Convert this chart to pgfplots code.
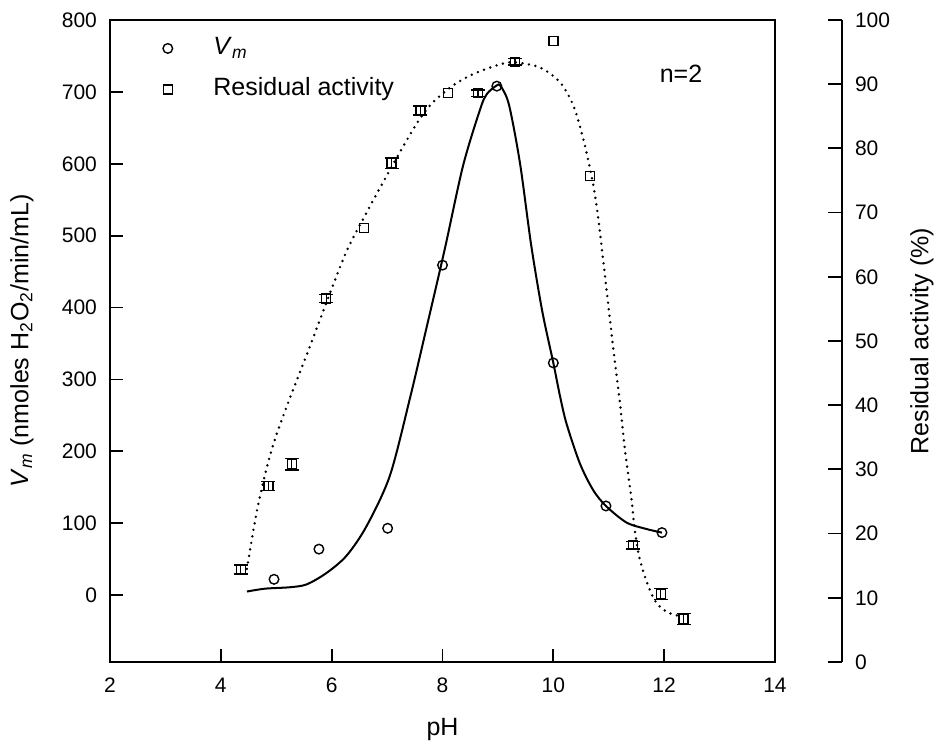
\documentclass[border=0pt]{standalone}
\usepackage{fontspec}
\setmainfont{Liberation Sans}
\usepackage{pgfplots}
\pgfplotsset{compat=1.18}
\begin{document}
\begin{tikzpicture}
\path (-55pt,-41pt) rectangle (414.5pt,331pt);
\begin{axis}[
  at={(0pt,0pt)}, anchor=south west,
  scale only axis, width=332.5pt, height=321pt,
  xmin=2, xmax=14, ymin=-93, ymax=800,
  xtick={2,4,...,14}, ytick={0,100,...,800},
  tick align=inside, tick pos=left,
  major tick length=6.5pt,
  axis line style={line width=1pt},
  tick style={line width=0.9pt, black},
  /pgf/number format/assume math mode=true,
  tick label style={font=\fontsize{10.5}{12}\selectfont},
  xticklabel style={yshift=-4.5pt},
  yticklabel style={xshift=-3pt},
  xlabel={pH},
  every axis x label/.style={at={(axis description cs:0.5,-0.1044)}, anchor=center, font=\fontsize{12.5}{15}\selectfont, inner sep=0pt},
  ylabel={\textit{V}\textsubscript{\textit{m}} (nmoles H\textsubscript{2}O\textsubscript{2}/min/mL)},
  every axis y label/.style={at={(axis description cs:-0.1323,0.5)}, rotate=90, anchor=center, font=\fontsize{12.5}{15}\selectfont, inner sep=0pt},
  legend style={at={(axis description cs:0.0788,0.975)}, anchor=north west, draw=none, fill=none, inner sep=0pt, row sep=8.5pt, column sep=0pt, font=\fontsize{12.5}{15}\selectfont, nodes={inner sep=0pt, text height=9pt, text depth=3pt}},
  legend cell align=left,
  legend image code/.code={\draw[#1] plot coordinates {(0pt,0pt)}; \path[draw=none, fill=none] (-2.5pt,-5pt) rectangle (22.8pt,5pt);},
]
\addplot[black, line width=1pt, smooth, tension=0.5, forget plot] coordinates {
(4.47,5) (4.80,9) (5.25,11) (5.55,15) (5.91,31) (6.27,55) (6.63,96) (7.05,166) (7.41,273) (7.70,368) (8.04,481) (8.37,597) (8.68,676) (8.80,697) (8.98,709) (9.05,708) (9.20,682) (9.40,600) (9.60,487) (9.80,395) (10.0,323) (10.12,277) (10.24,238) (10.48,183) (10.72,146) (10.95,124) (11.32,101) (11.68,92) (11.96,87)
};
\addplot[only marks, mark=o, mark size=2.4pt, mark options={line width=0.7pt, black}] coordinates {
(4.96,22) (5.77,64) (7.01,93) (8.0,459) (8.98,708) (10.0,323) (10.95,124) (11.96,87)
};
\addlegendentry{\textit{V}\textsubscript{\textit{m}}}
\addlegendimage{only marks, mark=square, mark size=2.25pt, mark options={line width=0.7pt, black}}
\addlegendentry{Residual activity}
\node[font=\fontsize{12.5}{15}\selectfont, inner sep=0pt] at (axis description cs:0.8586,0.9159) {n=2};
\end{axis}
\begin{axis}[
  at={(0pt,0pt)}, anchor=south west,
  scale only axis, width=366pt, height=321pt,
  xmin=2, xmax=15.209, ymin=0, ymax=100,
  hide x axis, axis y line*=right,
  ytick={0,10,...,100},
  tick align=inside, major tick length=7pt,
  axis line style={line width=1pt},
  tick style={line width=0.9pt, black},
  /pgf/number format/assume math mode=true,
  tick label style={font=\fontsize{10.5}{12}\selectfont},
  yticklabel style={xshift=3pt},
  ylabel={Residual activity (\%)},
  every axis y label/.style={at={(axis description cs:1.1093,0.5)}, rotate=90, anchor=center, font=\fontsize{12.5}{15}\selectfont, inner sep=0pt},
]
\addplot[black, line width=1.35pt, smooth, tension=0.5, dash pattern=on 0pt off 3.3pt, line cap=round] coordinates {
(4.47,14.5) (4.65,23.5) (4.83,30.3) (5.0,35.3) (5.25,41.2) (5.6,49) (5.95,57) (6.27,64.0) (6.63,70.0) (6.99,75.7) (7.35,81.2) (7.59,84.6) (7.83,87.2) (8.19,89.8) (8.56,91.6) (9.04,93.1) (9.31,93.4) (9.76,92.6) (10.12,90.3) (10.36,86.7) (10.54,81.5) (10.69,75.7) (10.78,71.1) (10.87,64.8) (11.0,55) (11.1,47.5) (11.20,40.5) (11.29,33.2) (11.41,25.4) (11.47,20.5) (11.56,16.0) (11.71,11.9) (11.86,9.2) (12.05,7.8) (12.25,7.2)
};
\addplot[only marks, mark=square, mark size=2.25pt, mark options={line width=0.7pt, black, solid},
  error bars/.cd, y dir=both, y explicit,
  error bar style={line width=0.6pt, black, solid},
  error mark=|, error mark options={mark size=3.5pt, line width=0.6pt, black}]
  table[x=x, y=y, y error=e] {
x y e
4.36 14.4 0.7
4.86 27.4 0.7
5.28 30.8 0.9
5.90 56.6 0.6
7.08 77.7 0.8
7.60 85.9 0.7
8.64 88.6 0.5
9.31 93.5 0.5
11.44 18.2 0.6
11.94 10.6 0.9
12.35 6.7 0.9
};
\addplot[only marks, mark=square, mark size=2.25pt, mark options={line width=0.7pt, black, solid}] coordinates {
(6.58,67.6) (8.10,88.6) (10.0,96.7) (10.66,75.7)
};
\end{axis}
\end{tikzpicture}
\end{document}
